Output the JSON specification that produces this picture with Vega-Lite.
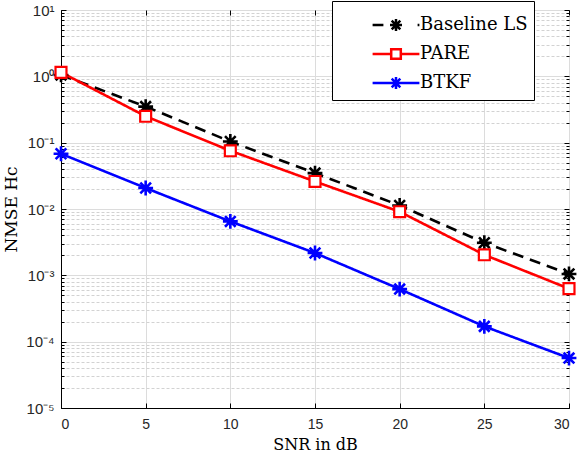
{
  "$schema": "https://vega.github.io/schema/vega-lite/v6.json",
  "width": 508,
  "height": 398,
  "autosize": "none",
  "padding": {"left": 61, "top": 10, "right": 9, "bottom": 44},
  "background": "white",
  "config": {
    "view": {"stroke": "black", "strokeWidth": 1},
    "axis": {
      "labelFont": "Liberation Sans",
      "labelFontSize": 14,
      "labelColor": "#262626",
      "titleFont": "DejaVu Serif",
      "titleFontSize": 16,
      "titleFontWeight": "normal",
      "titleColor": "black",
      "domainColor": "black",
      "tickColor": "black"
    }
  },
  "data": {
    "values": [
      {"snr": 0, "nmse": 1.05, "series": "Baseline LS"},
      {"snr": 5, "nmse": 0.35, "series": "Baseline LS"},
      {"snr": 10, "nmse": 0.104, "series": "Baseline LS"},
      {"snr": 15, "nmse": 0.0348, "series": "Baseline LS"},
      {"snr": 20, "nmse": 0.0113, "series": "Baseline LS"},
      {"snr": 25, "nmse": 0.0031, "series": "Baseline LS"},
      {"snr": 30, "nmse": 0.00105, "series": "Baseline LS"},
      {"snr": 0, "nmse": 1.15, "series": "PARE"},
      {"snr": 5, "nmse": 0.25, "series": "PARE"},
      {"snr": 10, "nmse": 0.0755, "series": "PARE"},
      {"snr": 15, "nmse": 0.026, "series": "PARE"},
      {"snr": 20, "nmse": 0.0091, "series": "PARE"},
      {"snr": 25, "nmse": 0.00204, "series": "PARE"},
      {"snr": 30, "nmse": 0.00063, "series": "PARE"},
      {"snr": 0, "nmse": 0.068, "series": "BTKF"},
      {"snr": 5, "nmse": 0.0207, "series": "BTKF"},
      {"snr": 10, "nmse": 0.0065, "series": "BTKF"},
      {"snr": 15, "nmse": 0.00217, "series": "BTKF"},
      {"snr": 20, "nmse": 0.00062, "series": "BTKF"},
      {"snr": 25, "nmse": 0.00017, "series": "BTKF"},
      {"snr": 30, "nmse": 0.0000566, "series": "BTKF"}
    ]
  },
  "encoding": {
    "x": {
      "field": "snr",
      "type": "quantitative",
      "scale": {"domain": [0, 30], "nice": false},
      "title": "SNR in dB"
    },
    "y": {
      "field": "nmse",
      "type": "quantitative",
      "scale": {"type": "log", "domain": [0.00001, 10], "nice": false},
      "title": "NMSE Hc"
    },
    "color": {
      "field": "series",
      "type": "nominal",
      "scale": {"domain": ["Baseline LS", "PARE", "BTKF"], "range": ["black", "#ff0000", "#0000ff"]}
    }
  },
  "resolve": {
    "scale": {"color": "independent", "shape": "independent"},
    "axis": {"x": "independent", "y": "independent"}
  },
  "layer": [
    {
      "mark": {"type": "line", "strokeWidth": 2.6},
      "encoding": {
        "x": {
          "field": "snr",
          "type": "quantitative",
          "title": "SNR in dB",
          "axis": {
            "values": [0, 5, 10, 15, 20, 25, 30],
            "grid": true,
            "gridColor": "#dcdcdc",
            "tickSize": -5,
            "labelPadding": 14,
            "titlePadding": 5,
            "domain": true
          }
        },
        "y": {
          "field": "nmse",
          "type": "quantitative",
          "title": "NMSE Hc",
          "axis": {
            "values": [0.00001, 0.00002, 0.00003, 0.00004, 0.00005, 0.00006, 0.00007, 0.00008, 0.00009,
              0.0001, 0.0002, 0.0003, 0.0004, 0.0005, 0.0006, 0.0007, 0.0008, 0.0009,
              0.001, 0.002, 0.003, 0.004, 0.005, 0.006, 0.007, 0.008, 0.009,
              0.01, 0.02, 0.03, 0.04, 0.05, 0.06, 0.07, 0.08, 0.09,
              0.1, 0.2, 0.3, 0.4, 0.5, 0.6, 0.7, 0.8, 0.9,
              1, 2, 3, 4, 5, 6, 7, 8, 9, 10],
            "labelExpr": "abs(log(datum.value)/LN10 - round(log(datum.value)/LN10)) < 0.000001 ? '10' + ['⁻⁵','⁻⁴','⁻³','⁻²','⁻¹','⁰','¹'][round(log(datum.value)/LN10) + 5] : ''",
            "grid": true,
            "gridColor": {"condition": {"test": "abs(log(datum.value)/LN10 - round(log(datum.value)/LN10)) < 0.000001", "value": "#dcdcdc"}, "value": "#d2d2d2"},
            "gridDash": {"condition": {"test": "abs(log(datum.value)/LN10 - round(log(datum.value)/LN10)) < 0.000001", "value": []}, "value": [3, 2]},
            "tickSize": {"condition": {"test": "abs(log(datum.value)/LN10 - round(log(datum.value)/LN10)) < 0.000001", "value": -5}, "value": -3},
            "labelPadding": 12,
            "labelFontSize": 15,
            "titleFontSize": 17,
            "titlePadding": 5
          }
        },
        "strokeDash": {
          "field": "series",
          "type": "nominal",
          "scale": {"domain": ["Baseline LS", "PARE", "BTKF"], "range": [[11, 7], [1, 0], [1, 0]]},
          "legend": null
        },
        "color": {"field": "series", "type": "nominal", "legend": null}
      }
    },
    {
      "transform": [{"filter": "datum.series != 'PARE'"}],
      "mark": {
        "type": "point",
        "filled": false,
        "opacity": 1,
        "strokeWidth": 2.6,
        "size": 220,
        "shape": "M0,-1L0,1M-1,0L1,0M-0.72,-0.72L0.72,0.72M-0.72,0.72L0.72,-0.72"
      },
      "encoding": {
        "x": {"field": "snr", "type": "quantitative", "axis": null},
        "y": {"field": "nmse", "type": "quantitative", "axis": null},
        "color": {"field": "series", "type": "nominal", "legend": null}
      }
    },
    {
      "transform": [{"filter": "datum.series == 'PARE'"}],
      "mark": {"type": "point", "shape": "square", "filled": false, "fill": "white", "strokeWidth": 2.2, "size": 120, "opacity": 1},
      "encoding": {
        "x": {"field": "snr", "type": "quantitative", "axis": null},
        "y": {"field": "nmse", "type": "quantitative", "axis": null},
        "color": {"field": "series", "type": "nominal", "legend": null}
      }
    },
    {
      "transform": [{"filter": "false"}],
      "mark": {"type": "point", "filled": false, "opacity": 1, "strokeWidth": 2},
      "encoding": {
        "x": {
          "field": "snr",
          "type": "quantitative",
          "axis": {"orient": "top", "values": [0, 5, 10, 15, 20, 25, 30], "labels": false, "grid": false, "domain": false, "tickSize": -5, "title": null}
        },
        "y": {
          "field": "nmse",
          "type": "quantitative",
          "axis": {
            "orient": "right",
            "values": [0.00001, 0.00002, 0.00003, 0.00004, 0.00005, 0.00006, 0.00007, 0.00008, 0.00009,
              0.0001, 0.0002, 0.0003, 0.0004, 0.0005, 0.0006, 0.0007, 0.0008, 0.0009,
              0.001, 0.002, 0.003, 0.004, 0.005, 0.006, 0.007, 0.008, 0.009,
              0.01, 0.02, 0.03, 0.04, 0.05, 0.06, 0.07, 0.08, 0.09,
              0.1, 0.2, 0.3, 0.4, 0.5, 0.6, 0.7, 0.8, 0.9,
              1, 2, 3, 4, 5, 6, 7, 8, 9, 10],
            "labels": false,
            "grid": false,
            "domain": false,
            "tickSize": {"condition": {"test": "abs(log(datum.value)/LN10 - round(log(datum.value)/LN10)) < 0.000001", "value": -5}, "value": -3},
            "title": null
          }
        },
        "color": {
          "field": "series",
          "type": "nominal",
          "legend": {
            "title": " ",
            "titleFontSize": 1,
            "titlePadding": 8,
            "orient": "none",
            "legendX": 271,
            "legendY": -9,
            "padding": 6,
            "fillColor": "white",
            "strokeColor": "black",
            "symbolSize": 144,
            "symbolStrokeWidth": 2.5,
            "symbolOpacity": 1,
            "symbolOffset": 49,
            "labelOffset": 15,
            "labelFont": "DejaVu Serif",
            "labelFontSize": 18,
            "labelColor": "black",
            "rowPadding": 8,
            "labelExpr": "datum.label + '\u00a0\u00a0\u00a0\u00a0\u00a0\u00a0'"
          }
        },
        "shape": {
          "field": "series",
          "type": "nominal",
          "scale": {
            "domain": ["Baseline LS", "PARE", "BTKF"],
            "range": [
              "M-3.9,0L-2.1,0M0,-1L0,1M-1,0L1,0M-0.72,-0.72L0.72,0.72M-0.72,0.72L0.72,-0.72M3.6,0L3.9,0",
              "M-3.9,0L-0.8,0M0.8,0L3.9,0M-0.8,-0.8L0.8,-0.8L0.8,0.8L-0.8,0.8Z",
              "M-3.9,0L3.9,0M0,-1L0,1M-1,0L1,0M-0.72,-0.72L0.72,0.72M-0.72,0.72L0.72,-0.72"
            ]
          }
        }
      }
    }
  ]
}
